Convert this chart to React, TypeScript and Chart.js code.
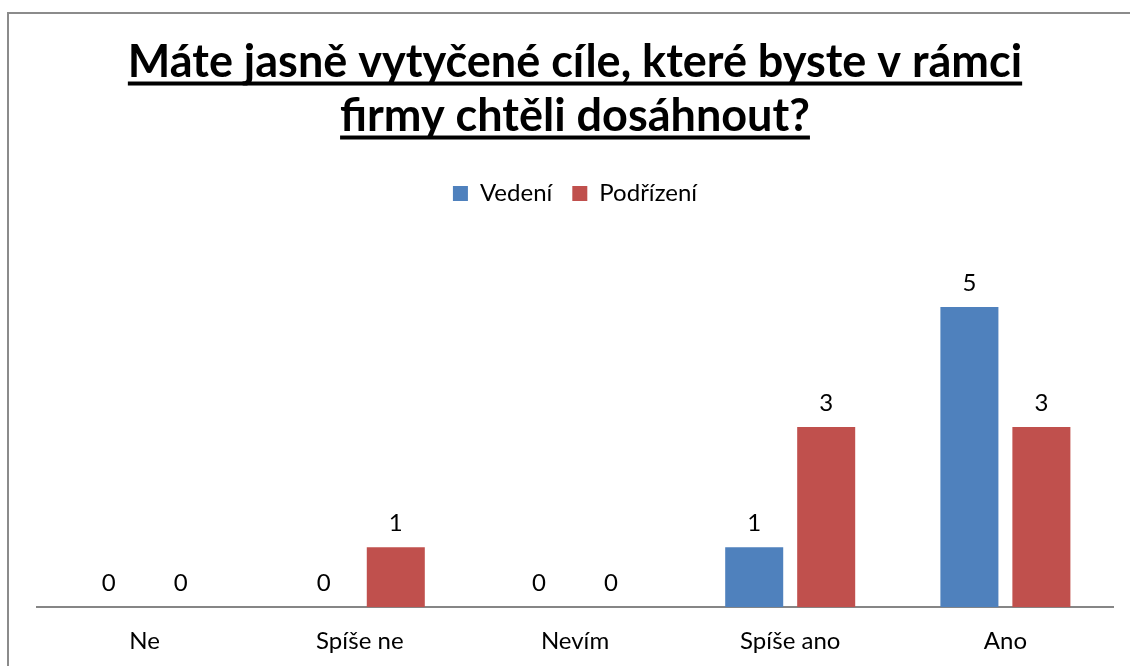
import React, { useEffect, useRef } from "react";
import { Chart, registerables } from "chart.js";

Chart.register(...registerables);

const categories = ["Ne", "Spíše ne", "Nevím", "Spíše ano", "Ano"];
const seriesNames = ["Vedení", "Podřízení"];
const vedeni = [0, 0, 0, 1, 5];
const podrizeni = [0, 1, 0, 3, 3];
const titleLines = ["Máte jasně vytyčené cíle, které byste v rámci", "firmy chtěli dosáhnout?"];
const yMax = 6;

const FONT = "Lato";
const TITLE_SIZE = 45;
const TITLE_LH = 54;
const TITLE_PAD_TOP = 21;
const LABEL_SIZE = 24;

const underlinePlugin = {
  id: "titleUnderline",
  afterDraw(chart: any) {
    const tb = chart.titleBlock;
    if (!tb) return;
    const ctx = chart.ctx;
    ctx.save();
    ctx.font = `bold ${TITLE_SIZE}px ${FONT}`;
    ctx.textBaseline = "middle";
    const desc = ctx.measureText("M").actualBoundingBoxDescent;
    const cx = (tb.left + tb.right) / 2;
    ctx.fillStyle = "#000";
    titleLines.forEach((line, i) => {
      const mid = tb.top + TITLE_PAD_TOP + TITLE_LH / 2 + i * TITLE_LH;
      const w = ctx.measureText(line).width;
      const y = mid + desc + 5;
      ctx.fillRect(cx - w / 2, y, w, 4);
    });
    ctx.restore();
  },
};

const valueLabelPlugin = {
  id: "valueLabels",
  afterDatasetsDraw(chart: any) {
    const ctx = chart.ctx;
    ctx.save();
    ctx.font = `${LABEL_SIZE}px ${FONT}`;
    ctx.fillStyle = "#000";
    ctx.textAlign = "center";
    ctx.textBaseline = "middle";
    chart.data.datasets.forEach((ds: any, di: number) => {
      const meta = chart.getDatasetMeta(di);
      meta.data.forEach((el: any, i: number) => {
        ctx.fillText(String(ds.data[i]), el.x, el.y - 24);
      });
    });
    ctx.restore();
  },
};

export default function App() {
  const ref = useRef<HTMLCanvasElement>(null);
  useEffect(() => {
    if (!ref.current) return;
    const chart = new Chart(ref.current, {
      type: "bar",
      data: {
        labels: categories,
        datasets: [
          { label: seriesNames[0], data: vedeni, backgroundColor: "#4F81BD" },
          { label: seriesNames[1], data: podrizeni, backgroundColor: "#C0504D" },
        ],
      },
      options: {
        animation: false,
        responsive: false,
        maintainAspectRatio: false,
        datasets: { bar: { categoryPercentage: 0.669, barPercentage: 0.806 } },
        layout: { padding: { left: 28, right: 28, top: 0, bottom: 13 } },
        plugins: {
          title: {
            display: true,
            text: titleLines,
            color: "#000",
            font: { family: FONT, size: TITLE_SIZE, weight: "bold", lineHeight: TITLE_LH / TITLE_SIZE },
            padding: { top: TITLE_PAD_TOP, bottom: 18.5 },
          },
          subtitle: {
            display: true,
            text: " ",
            weight: 500,
            font: { family: FONT, size: 1, lineHeight: 1 },
            padding: { top: 0, bottom: 30.5 },
          } as any,
          legend: {
            display: true,
            position: "top",
            labels: {
              color: "#000",
              font: { family: FONT, size: LABEL_SIZE },
              boxWidth: 15,
              boxHeight: 15,
              padding: 20,
            },
          },
          tooltip: { enabled: false },
        },
        scales: {
          x: {
            grid: { display: false, drawTicks: false },
            border: { display: true, color: "#868686", width: 2 },
            ticks: { color: "#000", font: { family: FONT, size: LABEL_SIZE }, padding: 20 },
          },
          y: {
            display: false,
            min: 0,
            max: yMax,
          },
        },
      },
      plugins: [underlinePlugin, valueLabelPlugin],
    });
    return () => chart.destroy();
  }, []);

  return (
    <div style={{ position: "fixed", left: 0, top: 0, width: 1130, height: 666, overflow: "hidden", background: "#fff" }}>
      <div
        style={{
          position: "absolute",
          left: 7,
          top: 12,
          width: 1200,
          height: 700,
          borderLeft: "2px solid #8b8b8b",
          borderTop: "2px solid #8b8b8b",
        }}
      />
      <div style={{ position: "absolute", left: 9, top: 14, width: 1132, height: 675 }}>
        <canvas ref={ref} width={1132} height={675} style={{ width: 1132, height: 675 }} />
      </div>
    </div>
  );
}
